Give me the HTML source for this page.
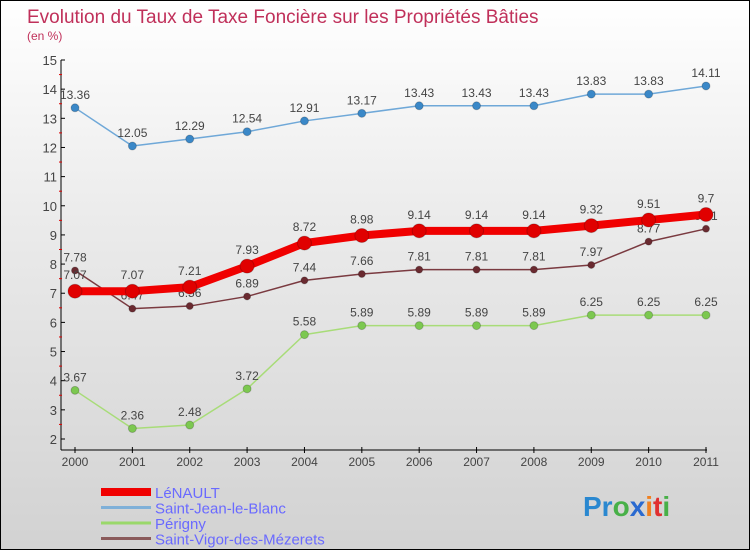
<!DOCTYPE html>
<html><head><meta charset="utf-8"><style>
body{margin:0}
#c{width:748px;height:548px;border:1px solid #000;background:linear-gradient(#fff 0%,#ebebeb 40%,#d2d2d2 100%);position:relative;font-family:"Liberation Sans",sans-serif;overflow:hidden}
</style></head><body>
<div id="c">
<svg id="s" width="748" height="548"></svg>
</div>
<script>
const years=["2000","2001","2002","2003","2004","2005","2006","2007","2008","2009","2010","2011"];
const lenault=[7.07,7.07,7.21,7.93,8.72,8.98,9.14,9.14,9.14,9.32,9.51,9.7];
const stjean=[13.36,12.05,12.29,12.54,12.91,13.17,13.43,13.43,13.43,13.83,13.83,14.11];
const perigny=[3.67,2.36,2.48,3.72,5.58,5.89,5.89,5.89,5.89,6.25,6.25,6.25];
const stvigor=[7.78,6.47,6.56,6.89,7.44,7.66,7.81,7.81,7.81,7.97,8.77,9.21];
const yTicks=[2,3,4,5,6,7,8,9,10,11,12,13,14,15];
const NS="http://www.w3.org/2000/svg";
const s=document.getElementById('s');
const X=i=>74+i*(705-74)/(years.length-1);
const Y=v=>438-(v-2)*(438-59)/13;
function mk(t,a,p){const e=document.createElementNS(NS,t);for(const k in a)e.setAttribute(k,a[k]);(p||s).appendChild(e);return e;}
let t=mk('text',{x:26,y:22,fill:'#c0305a','font-size':19});t.textContent='Evolution du Taux de Taxe Foncière sur les Propriétés Bâties';


t=mk('text',{x:26,y:39,fill:'#c0305a','font-size':12});t.textContent='(en %)';


let ax=mk('line',{x1:60,y1:59,x2:60,y2:449,stroke:'#000'});


ax=mk('line',{x1:60,y1:449,x2:706,y2:449,stroke:'#000'});


yTicks.forEach(v=>{
 mk('line',{x1:60,y1:Y(v),x2:64,y2:Y(v),stroke:'#000'});
 if(v<15)mk('line',{x1:58,y1:Y(v+0.5),x2:61,y2:Y(v+0.5),stroke:'#d00'});
 const l=mk('text',{x:56,y:Y(v)+5,'text-anchor':'end','font-size':13,fill:'#444'});l.textContent=v;
 
 
});
years.forEach((y,i)=>{
 mk('line',{x1:X(i),y1:446,x2:X(i),y2:452,stroke:'#000'});
 const l=mk('text',{x:X(i),y:465,'text-anchor':'middle','font-size':12,fill:'#444'});l.textContent=y;
 
 
});
function series(d,col,dot,w,r,name,dy){
 const g=mk('g',{});
 
 
 mk('polyline',{points:d.map((v,i)=>X(i)+','+Y(v)).join(' '),fill:'none',stroke:col,'stroke-width':w,'stroke-linejoin':'round'},g);
 d.forEach((v,i)=>{
  const c=mk('circle',{cx:X(i),cy:Y(v),r:r,fill:dot,stroke:'#0003'},g);
  
  
  const l=mk('text',{x:X(i),y:Y(v)+dy,'text-anchor':'middle','font-size':12,fill:'#444'},g);l.textContent=v;
  
  
 });
}
series(stjean,'#6fa8d8','#3a88c8',1.5,4,'saint-jean-le-blanc-series',-9);
series(perigny,'#a8dc78','#7cc850',1.5,4,'perigny-series',-9);
series(stvigor,'#7a3a40','#6a2a30',1.5,3.5,'saint-vigor-series',-9);
series(lenault,'#f00000','#e00000',8,7,'lenault-series',-12);
const leg=[['LéNAULT','#f00000',8],['Saint-Jean-le-Blanc','#7fb0d8',3],['Périgny','#9ad86a',3],['Saint-Vigor-des-Mézerets','#8a5a5a',3]];
leg.forEach((e,i)=>{
 const y=491+i*15.5;
 const g=mk('g',{});
 
 
 mk('line',{x1:100,y1:y,x2:150,y2:y,stroke:e[1],'stroke-width':e[2]},g);
 const l=mk('text',{x:154,y:y+6,'font-size':15,fill:'#6a6aff'},g);l.textContent=e[0];
});
const lg=mk('text',{x:582,y:515,'font-size':28,'font-weight':'bold'});


[['Pr','#2a88d0'],['o','#48b048'],['x','#2a6ad0'],['i','#f08020'],['t','#e03030'],['i','#48b048']].forEach(p=>{const ts=mk('tspan',{fill:p[1]},lg);ts.textContent=p[0];});
</script>
</body></html>
